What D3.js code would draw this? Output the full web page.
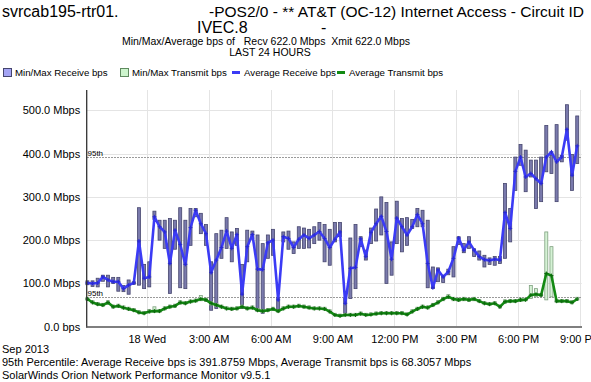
<!DOCTYPE html>
<html><head><meta charset="utf-8">
<script src="https://cdn.jsdelivr.net/npm/d3@7"></script>
<style>
body{margin:0;background:#fff}
svg{display:block}
text{font-family:"Liberation Sans",Arial,sans-serif;fill:#000}
</style>
</head><body>
<svg id="c" width="591" height="382"></svg>
<script>
// ---- data (15-minute samples, Mbps) ----
const sampleStart = new Date(2013, 8, 17, 21, 7);
const sampleMinutes = 15;

const avgRecv = [101,100,101,115,108,104,104,88,96,101,
  198,112,115,254,231,219,146,223,190,144,
  229,269,238,215,125,154,183,221,181,213,
  75,185,213,133,132,194,200,62,208,204,
  183,202,212,204,212,220,204,183,202,219,
  54,135,137,203,162,218,238,255,220,156,
  251,231,212,231,259,238,146,90,131,115,
  127,158,205,177,196,177,162,155,153,156,
  154,264,227,359,392,346,354,342,331,392,
  404,381,392,456,350,418];
const minRecv = [97,93,92,105,92,100,82,81,75,98,
  96,88,92,248,200,181,77,179,90,88,
  188,254,215,188,38,42,158,181,150,188,
  42,150,204,35,31,158,165,40,196,179,
  169,181,181,182,192,200,150,142,196,208,
  31,65,88,185,154,192,198,212,100,119,
  192,173,188,227,231,231,90,88,104,102,
  120,115,190,171,181,162,154,138,144,142,
  146,158,196,315,373,312,346,273,289,358,
  354,289,381,431,315,377];
const maxRecv = [106,106,112,119,119,114,114,95,108,104,
  275,144,150,267,246,246,250,246,275,246,
  273,273,262,236,150,215,223,252,219,227,
  144,223,221,212,192,212,225,68,219,221,
  196,231,228,225,231,241,236,225,241,241,
  65,205,236,208,177,228,272,300,287,196,
  290,250,252,248,273,269,246,138,136,119,
  133,185,208,192,208,180,175,165,159,162,
  162,331,273,392,421,408,385,385,392,465,
  396,467,396,513,398,487];

const avgXmit = [64,56,52,50,56,46,48,44,41,38,
  33,31,35,36,36,42,46,48,56,54,
  58,60,64,62,54,50,46,42,41,42,
  46,42,44,38,36,38,41,36,42,46,
  46,48,46,44,42,42,41,35,27,25,
  27,27,27,30,27,28,30,31,31,31,
  31,31,28,35,41,46,44,50,56,64,
  69,64,62,64,62,64,59,54,52,54,
  46,58,59,59,62,62,73,75,73,123,
  118,59,59,59,56,64];
const minXmit = [61,53,49,47,52,43,45,41,38,35,
  30,29,32,33,33,39,43,45,52,51,
  55,57,60,58,50,47,43,39,38,39,
  43,39,41,35,33,35,38,33,39,43,
  43,45,43,41,39,39,38,32,25,23,
  25,25,25,27,25,26,27,28,28,28,
  28,28,26,32,38,43,41,47,53,60,
  65,60,58,60,58,60,56,51,49,51,
  43,54,56,56,58,60,65,69,70,62,
  69,56,56,56,53,61];
const maxXmit = [68,60,56,54,60,50,52,48,45,42,
  37,35,40,46,40,46,50,52,60,58,
  62,64,72,66,58,54,50,46,45,46,
  50,46,48,42,40,42,45,40,46,50,
  50,52,50,48,46,46,45,39,31,29,
  31,31,31,34,31,32,34,35,35,35,
  35,35,32,39,45,50,48,54,60,68,
  74,68,66,68,66,68,63,58,56,58,
  50,62,63,63,66,66,95,88,76,219,
  185,63,63,63,60,68];

const p95Recv = 391.8759;
const p95Xmit = 68.3057;

const yTicks = [0, 100, 200, 300, 400, 500];
const xTickHours = [24, 27, 30, 33, 36, 39, 42, 45]; // hours after 17 Sep 00:00
const xTickLabels = ["18 Wed","3:00 AM","6:00 AM","9:00 AM","12:00 PM","3:00 PM","6:00 PM","9:00 PM"];

const legendItems = [
  {label:"Min/Max Receive bps", type:"box", fill:"#a4a4f4", stroke:"#45456e"},
  {label:"Min/Max Transmit bps", type:"box", fill:"#cdf5cd", stroke:"#5f8a5f"},
  {label:"Average Receive bps", type:"dash", color:"#3b3bf5"},
  {label:"Average Transmit bps", type:"dash", color:"#138a13"}
];

// ---- chart ----
const svg = d3.select("#c");
svg.append("rect").attr("width",591).attr("height",382).attr("fill","#fff");

const day0 = new Date(2013, 8, 17, 0, 0);
const hrs = h => new Date(day0.getTime() + h*3600000);
const times = avgRecv.map((d,i) => new Date(sampleStart.getTime() + i*sampleMinutes*60000));

const x = d3.scaleTime().domain([hrs(21+5/60), hrs(45+5/60)]).range([86.7, 581.7]);
const y = d3.scaleLinear().domain([0, 547]).range([326.7, 90]);

// titles
svg.append("text").attr("x",2).attr("y",17).attr("font-size",16).text("svrcab195-rtr01.");
svg.append("text").attr("x",584).attr("y",17).attr("font-size",15.5).attr("text-anchor","end")
  .text("-POS2/0 - ** AT&T (OC-12) Internet Access - Circuit ID");
svg.append("text").attr("x",197).attr("y",33).attr("font-size",16).text("IVEC.8");
svg.append("text").attr("x",321).attr("y",33).attr("font-size",16).text("-");
svg.append("text").attr("x",266).attr("y",45).attr("font-size",10.5).attr("text-anchor","middle")
  .attr("xml:space","preserve").text("Min/Max/Average bps of   Recv 622.0 Mbps  Xmit 622.0 Mbps");
svg.append("text").attr("x",270).attr("y",56).attr("font-size",10.5).attr("text-anchor","middle").text("LAST 24 HOURS");

// legend
const legendX = [3, 120, 232, 337];
const lg = svg.append("g");
legendItems.forEach((it,k) => {
  const g = lg.append("g").attr("transform",`translate(${legendX[k]},0)`);
  if (it.type === "box") {
    g.append("rect").attr("x",0.5).attr("y",68.5).attr("width",8).attr("height",8)
      .attr("fill",it.fill).attr("stroke",it.stroke);
  } else {
    g.append("rect").attr("x",0).attr("y",71).attr("width",8).attr("height",3).attr("fill",it.color);
  }
  g.append("text").attr("x",12).attr("y",76).attr("font-size",9.7).attr("fill","#222").text(it.label);
});

// grid
const grid = svg.append("g");
grid.selectAll("line.h").data(yTicks.filter(v=>v>0)).join("line")
  .attr("x1",87).attr("x2",581.7).attr("y1",d=>Math.round(y(d))+0.5).attr("y2",d=>Math.round(y(d))+0.5)
  .attr("stroke","#e4e4e4");
grid.selectAll("line.v").data(xTickHours).join("line")
  .attr("y1",90).attr("y2",326).attr("x1",d=>Math.round(x(hrs(d)))+0.5).attr("x2",d=>Math.round(x(hrs(d)))+0.5)
  .attr("stroke","#e4e4e4");

// 95th lines
[p95Recv, p95Xmit].forEach(v => {
  const yy = Math.round(y(v)) + 0.5;
  svg.append("line").attr("x1",87).attr("x2",581.7).attr("y1",yy).attr("y2",yy)
    .attr("stroke","#9a9a9a").attr("stroke-dasharray","2,1");
  svg.append("text").attr("x",87.5).attr("y",yy-2).attr("font-size",8).text("95th");
});

// receive min/max bars
const bw = 3;
svg.append("g").selectAll("rect").data(times).join("rect")
  .attr("x",(d)=>x(d)-bw/2).attr("width",bw)
  .attr("y",(d,i)=>y(maxRecv[i])).attr("height",(d,i)=>Math.max(1,y(minRecv[i])-y(maxRecv[i])))
  .attr("fill","#7a7aac").attr("stroke","#46466e").attr("stroke-width",0.8);

// transmit min/max bars
svg.append("g").selectAll("rect").data(times).join("rect")
  .attr("x",(d)=>x(d)-bw/2).attr("width",bw)
  .attr("y",(d,i)=>y(maxXmit[i])).attr("height",(d,i)=>Math.max(1,y(minXmit[i])-y(maxXmit[i])))
  .attr("fill","#d5f2d5").attr("stroke","#7fa07f").attr("stroke-width",0.8);

// lines
const lineR = d3.line().x((d,i)=>x(times[i])).y(d=>y(d));
svg.append("path").datum(avgXmit).attr("d",lineR).attr("fill","none")
  .attr("stroke","#138a13").attr("stroke-width",2.6).attr("stroke-linejoin","round");
svg.append("path").datum(avgRecv).attr("d",lineR).attr("fill","none")
  .attr("stroke","#3b3bf5").attr("stroke-width",2.6).attr("stroke-linejoin","round");

// markers (+)
function markers(arr, color){
  const g = svg.append("g").attr("stroke",color).attr("stroke-width",1);
  arr.forEach((v,i)=>{
    const cx = x(times[i]), cy = y(v);
    g.append("path").attr("d",`M${cx-2},${cy}H${cx+2}M${cx},${cy-2}V${cy+2}`);
  });
}
markers(avgXmit, "#0d6a0d");
markers(avgRecv, "#2a2ad0");

// axes
const yAxis = d3.axisLeft(y).tickValues(yTicks).tickSize(0).tickPadding(6.5)
  .tickFormat(v => v === 0 ? "0.0 bps" : v.toFixed(1) + " Mbps");
const ya = svg.append("g").attr("transform","translate(86.7,0)").call(yAxis);
ya.select(".domain").remove();
ya.selectAll("text").attr("font-size",11).attr("font-family","Liberation Sans, Arial, sans-serif").attr("fill","#111");

const xAxis = d3.axisBottom(x).tickValues(xTickHours.map(hrs)).tickSize(0).tickPadding(8)
  .tickFormat((d,i) => xTickLabels[i]);
const xa = svg.append("g").attr("transform","translate(0,327)").call(xAxis);
xa.select(".domain").remove();
xa.selectAll("text").attr("font-size",11).attr("font-family","Liberation Sans, Arial, sans-serif").attr("fill","#111");

svg.append("line").attr("x1",86.7).attr("x2",86.7).attr("y1",90).attr("y2",327.5)
  .attr("stroke","#333").attr("stroke-width",1.3);
svg.append("line").attr("x1",86).attr("x2",582).attr("y1",327).attr("y2",327)
  .attr("stroke","#555").attr("stroke-width",1.6);

// footer
svg.append("text").attr("x",2).attr("y",353).attr("font-size",11).text("Sep 2013");
svg.append("text").attr("x",2).attr("y",366).attr("font-size",11)
  .text(`95th Percentile: Average Receive bps is ${p95Recv.toFixed(4)} Mbps, Average Transmit bps is ${p95Xmit.toFixed(4)} Mbps`);
svg.append("text").attr("x",2).attr("y",379).attr("font-size",11).text("SolarWinds Orion Network Performance Monitor v9.5.1");
</script>
</body></html>
